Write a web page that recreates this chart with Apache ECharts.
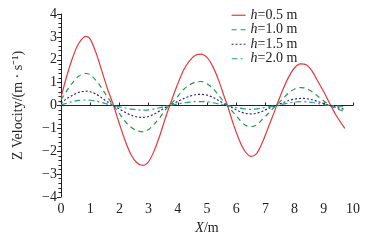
<!DOCTYPE html>
<html>
<head>
<meta charset="utf-8">
<script src="https://cdn.jsdelivr.net/npm/echarts@6/dist/echarts.min.js"></script>
<style>
html,body{margin:0;padding:0;background:#fff;}
#main{width:371px;height:243px;}
</style>
</head>
<body>
<div id="main"></div>
<script>
// X 位置（m）
var xs = [0,0.2,0.4,0.6,0.85,1.0,1.2,1.4,1.6,1.8,2.0,2.2,2.4,2.6,2.8,3.0,3.2,3.4,3.6,3.75,
  4.0,4.2,4.4,4.6,4.8,5.0,5.2,5.4,5.6,5.7,5.9,6.1,6.3,6.5,6.7,6.9,7.1,7.3,7.4,7.6,
  7.8,8.0,8.2,8.4,8.6,8.8,9.0,9.2,9.4,9.72];
// Z 方向速度
var h05 = [0.35,1.3,2.1,2.7,3.02,2.9,2.3,1.5,0.7,0,-0.8,-1.55,-2.15,-2.5,-2.62,-2.45,-1.95,-1.25,-0.45,0.1,
  0.95,1.55,1.95,2.2,2.25,2.1,1.7,1.1,0.35,0,-0.8,-1.5,-2.0,-2.22,-2.1,-1.6,-0.95,-0.3,0.05,0.7,
  1.25,1.65,1.82,1.78,1.5,1.05,0.6,0.1,-0.38,-1.0];
var h10 = [0.25,0.65,1.0,1.28,1.4,1.35,1.1,0.75,0.35,0,-0.35,-0.7,-0.95,-1.1,-1.15,-1.05,-0.8,-0.5,-0.15,0.05,
  0.4,0.7,0.9,1.02,1.05,0.95,0.75,0.45,0.12,0,-0.3,-0.6,-0.85,-0.93,-0.85,-0.6,-0.35,-0.08,0.03,0.3,
  0.55,0.72,0.78,0.75,0.6,0.4,0.2,0.02,-0.12,-0.27];
var h15 = [0.1,0.3,0.45,0.57,0.63,0.6,0.5,0.33,0.15,0,-0.15,-0.3,-0.42,-0.5,-0.52,-0.48,-0.37,-0.22,-0.07,0.02,
  0.18,0.3,0.4,0.47,0.49,0.45,0.36,0.22,0.06,0,-0.12,-0.25,-0.34,-0.37,-0.34,-0.25,-0.13,-0.03,0.02,0.12,
  0.22,0.28,0.31,0.3,0.25,0.17,0.08,0.01,-0.07,-0.17];
var h20 = [0.03,0.1,0.17,0.22,0.24,0.23,0.19,0.13,0.06,0,-0.06,-0.11,-0.16,-0.19,-0.2,-0.19,-0.15,-0.09,-0.03,0.01,
  0.07,0.11,0.15,0.17,0.17,0.16,0.12,0.07,0.02,0,-0.06,-0.11,-0.15,-0.17,-0.15,-0.11,-0.06,-0.01,0.01,0.06,
  0.11,0.15,0.17,0.16,0.13,0.09,0.04,0.0,-0.02,-0.05];
var seriesNames = ['0.5','1.0','1.5','2.0'];
var seriesValues = [h05,h10,h15,h20];
var colors = ['#e8363a','#1f9a4e','#2c2385','#1fa383'];
var lineTypes = ['solid',[5,4],[2,2],[6,3,2,3]];

function pairs(ys)
{
	var out = [];
	for (var i = 0; i < xs.length; i++) {
		out.push([xs[i], ys[i]]);
	}
	return out;
}

var font = '"Liberation Serif", "Times New Roman", serif';
var series = [];
for (var i = 0; i < seriesValues.length; i++) {
	series.push({
		name: seriesNames[i],
		type: 'line',
		data: pairs(seriesValues[i]),
		smooth: 0.3,
		symbol: 'none',
		lineStyle: {color: colors[i], width: 1.2, type: lineTypes[i]},
		itemStyle: {color: colors[i]}
	});
}

function minus(v)
{
	return String(v).replace('-', '\u2212');
}

var myChart = echarts.init(document.getElementById('main'));
myChart.setOption({
	animation: false,
	backgroundColor: '#fff',
	grid: {left: 61, right: 18, top: 14, bottom: 46},
	legend: {
		left: 226, top: 3,
		orient: 'vertical',
		itemWidth: 14, itemHeight: 8, itemGap: 0,
		itemStyle: {opacity: 0},
		lineStyle: {width: 1.2},
		textStyle: {fontFamily: font, fontSize: 14, color: '#222', lineHeight: 14.5,
			rich: {i: {fontStyle: 'italic', fontFamily: font, fontSize: 14, color: '#222', lineHeight: 14.5}}},
		formatter: function (name) { return '{i|h}=' + name + ' m'; },
		data: seriesNames
	},
	xAxis: {
		type: 'value', min: 0, max: 10, interval: 1,
		name: '{i|X}/m', nameLocation: 'middle', nameGap: 20,
		nameTextStyle: {fontFamily: font, fontSize: 14, color: '#222', rich: {i: {fontStyle: 'italic', fontFamily: font, fontSize: 14, color: '#222'}}},
		axisLine: {lineStyle: {color: '#222', width: 1}},
		axisTick: {inside: true, length: 3, lineStyle: {color: '#222'}},
		axisLabel: {fontFamily: font, fontSize: 14, color: '#222', margin: 5},
		splitLine: {show: false}
	},
	yAxis: {
		type: 'value', min: -4, max: 4, interval: 1,
		name: 'Z Velocity/(m \u00b7 s\u207b\u00b9)', nameLocation: 'middle', nameGap: 36,
		nameTextStyle: {fontFamily: font, fontSize: 14, color: '#222'},
		axisLine: {show: true, lineStyle: {color: '#222', width: 1}},
		axisTick: {length: 4, lineStyle: {color: '#222'}},
		minorTick: {show: true, splitNumber: 5, length: 2.5, lineStyle: {color: '#222'}},
		axisLabel: {fontFamily: font, fontSize: 14, color: '#222', margin: 4, formatter: minus},
		splitLine: {show: false}
	},
	series: series
});
</script>
</body>
</html>
